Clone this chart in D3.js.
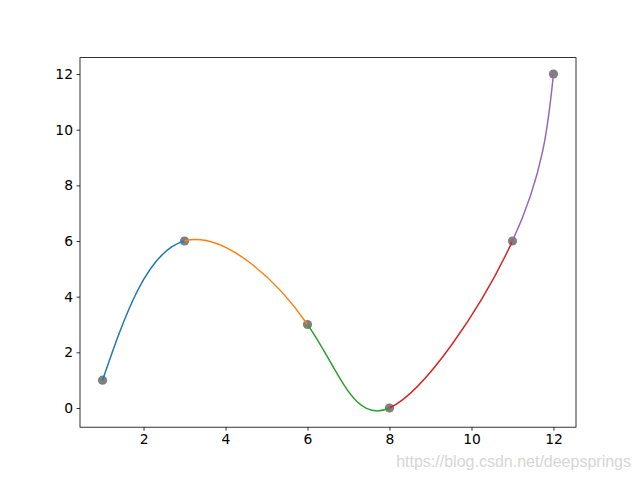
<!DOCTYPE html>
<html><head><meta charset="utf-8">
<script src="https://cdn.jsdelivr.net/npm/d3@7"></script>
<style>body{margin:0;background:#fff} svg{display:block}</style>
</head><body>
<script>
// data
const xs = [1, 3, 6, 8, 11, 12];
const ys = [1, 6, 3, 0, 6, 12];
const segmentColors = ["#1f77b4", "#ff7f0e", "#2ca02c", "#d62728", "#9467bd"];
const xTicks = [2, 4, 6, 8, 10, 12];
const yTicks = [0, 2, 4, 6, 8, 10, 12];
const xDomain = [0.45, 12.55];
const yDomain = [-0.69, 12.59];
const watermark = "https://blog.csdn.net/deepsprings";

const W = 640, H = 480;
const m = {left: 80, right: 576, top: 57.6, bottom: 427.2};
const svg = d3.select("body").append("svg").attr("width", W).attr("height", H);
svg.append("rect").attr("width", W).attr("height", H).attr("fill", "#fff");

const x = d3.scaleLinear().domain(xDomain).range([m.left, m.right]);
const y = d3.scaleLinear().domain(yDomain).range([m.bottom, m.top]);
const pts = xs.map((v, i) => [v, ys[i]]);
const line = d3.line().x(d => x(d[0])).y(d => y(d[1])).curve(d3.curveNatural);

// markers (drawn beneath the curve pieces)
svg.append("g").selectAll("circle").data(pts).join("circle")
  .attr("cx", d => x(d[0])).attr("cy", d => y(d[1])).attr("r", 4.6)
  .attr("fill", "#808080");

const defs = svg.append("defs");
segmentColors.forEach((c, i) => {
  const x0 = i === 0 ? m.left : x(xs[i]);
  const x1 = i === segmentColors.length - 1 ? m.right : x(xs[i + 1]);
  defs.append("clipPath").attr("id", "seg" + i).append("rect")
    .attr("x", x0).attr("y", m.top).attr("width", x1 - x0).attr("height", m.bottom - m.top);
  svg.append("path").attr("d", line(pts)).attr("fill", "none")
    .attr("stroke", c).attr("stroke-width", 1.5).attr("stroke-linecap", "butt")
    .attr("clip-path", `url(#seg${i})`);
});

const font = "'DejaVu Sans', sans-serif";
const gx = svg.append("g").attr("transform", `translate(0,${m.bottom})`)
  .call(d3.axisBottom(x).tickValues(xTicks).tickFormat(d3.format("d")).tickSize(3.5).tickPadding(3.5).tickSizeOuter(0));
const gy = svg.append("g").attr("transform", `translate(${m.left},0)`)
  .call(d3.axisLeft(y).tickValues(yTicks).tickFormat(d3.format("d")).tickSize(3.5).tickPadding(3.5).tickSizeOuter(0));
[gx, gy].forEach(g => {
  g.select(".domain").remove();
  g.selectAll("line").attr("stroke", "#000").attr("stroke-width", 0.8);
  g.selectAll("text").attr("fill", "#000").style("font-family", font).style("font-size", "13.89px");
});

svg.append("rect").attr("x", m.left).attr("y", m.top)
  .attr("width", m.right - m.left).attr("height", m.bottom - m.top)
  .attr("fill", "none").attr("stroke", "#000").attr("stroke-width", 0.8);

svg.append("text").attr("x", 631).attr("y", 467).attr("text-anchor", "end")
  .style("font-family", "'Liberation Sans', Arial, sans-serif").style("font-size", "16px")
  .attr("fill", "#d6d6d6").text(watermark);
</script>
</body></html>
